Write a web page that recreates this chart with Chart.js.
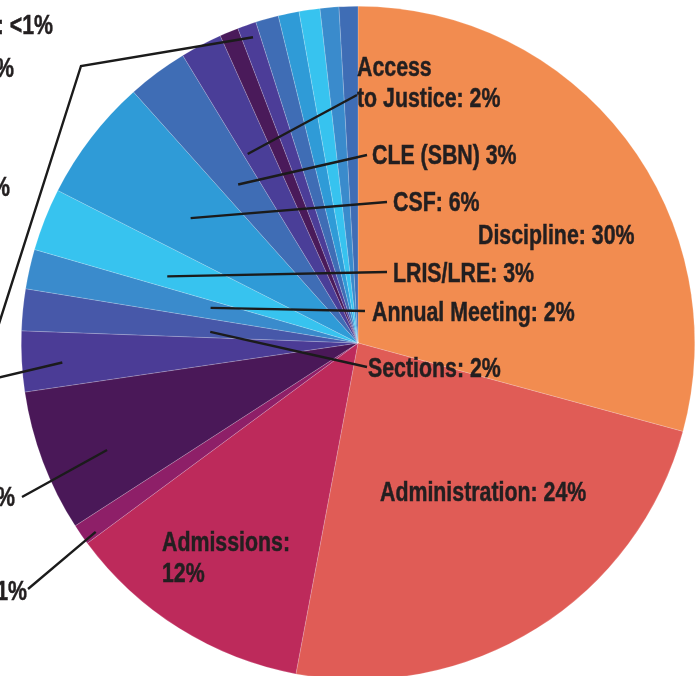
<!DOCTYPE html>
<html>
<head>
<meta charset="utf-8" />
<title>Expenditures by Program</title>
<script src="https://cdn.jsdelivr.net/npm/chart.js"></script>
<style>
	html, body { margin: 0; padding: 0; background: #fff; overflow: hidden; width: 696px; height: 676px; }
	#wrap { position: absolute; left: 0; top: 0; width: 696px; height: 690px; }
</style>
</head>
<body>
<div id="wrap"><canvas id="pie" width="696" height="690"></canvas></div>
<script>
	// slices, clockwise from 12 o'clock
	const categories = [
		'Discipline', 'Administration', 'Admissions', 'Member Services', 'Information Technology',
		'Communications', 'Sections', 'Annual Meeting', 'LRIS/LRE', 'CSF',
		'CLE (SBN)', 'Access to Justice', 'Board of Trustees', 'Other', 'Bar Journal',
		'Diversity', 'Legal Specialization', 'Certification', 'Ethics'
	];
	const shares = [29.2, 23.7, 11.9, 1.0, 6.8, 2.9, 2.0, 1.9, 3.0, 5.9, 2.9, 2.0, 0.9, 0.9, 1.1, 1.0, 1.0, 0.9, 0.9];
	const sliceColors = [
		'#f28c50', '#e05c56', '#bd2a5b', '#8e1f68', '#4a1858',
		'#4b3c96', '#4758a9', '#3a8bcc', '#37c3ef', '#2f9bd7',
		'#3f6db5', '#4a3e98', '#4a1a5a', '#4c3d98', '#3f6db5',
		'#2f9bd7', '#37c3ef', '#3a8bcc', '#3f6db5'
	];

	// no narrow face installed, so squeeze Liberation Sans Bold
	const FONT = "bold 27px 'Liberation Sans', Arial, sans-serif";
	const SQUEEZE = 0.79;
	const INK = '#231f20';

	// leaders: slice index, position inside slice (t along the arc, r of radius), then path and text
	const notes = [
		{ i: 11, t: 0.15, r: 0.65, path: [[357, 95]], text: ['Access', 'to Justice: 2%'], x: 357, y: 67 },
		{ i: 10, t: 0.45, r: 0.59, path: [[367, 155]], text: ['CLE (SBN) 3%'], x: 372, y: 155 },
		{ i: 9, t: 0.46, r: 0.62, path: [[387, 202]], text: ['CSF: 6%'], x: 393, y: 202 },
		{ i: 8, t: 0.29, r: 0.60, path: [[387, 272]], text: ['LRIS/LRE: 3%'], x: 393, y: 273 },
		{ i: 7, t: 0.60, r: 0.45, path: [[365, 311]], text: ['Annual Meeting: 2%'], x: 372, y: 312 },
		{ i: 6, t: 0.31, r: 0.44, path: [[367, 367]], text: ['Sections: 2%'], x: 368, y: 368 },
		{ i: 13, t: 0.60, r: 0.96, path: [[81, 66], [-10, 352]], text: [], x: 0, y: 0 },
		{ i: 5, t: 0.44, r: 0.88, path: [[-20, 382]], text: [], x: 0, y: 0 },
		{ i: 4, t: 0.40, r: 0.81, path: [[22, 497]], text: [], x: 0, y: 0 },
		{ i: 3, t: 0.20, r: 0.96, path: [[28, 589]], text: [], x: 0, y: 0 }
	];
	// labels sitting inside slices, or running off the left edge
	const plainLabels = [
		{ text: ['Discipline: 30%'], x: 478, y: 235, align: 'left' },
		{ text: ['Administration: 24%'], x: 380, y: 492, align: 'left' },
		{ text: ['Admissions:', '12%'], x: 162, y: 542, align: 'left' },
		{ text: ['Other: <1%'], x: 53, y: 25, align: 'right' },
		{ text: ['Bar Journal: 1%'], x: 14, y: 68, align: 'right' },
		{ text: ['Communications: 3%'], x: 10, y: 187, align: 'right' },
		{ text: ['Information Technology: 7%'], x: 15, y: 497, align: 'right' },
		{ text: ['Member Services: 1%'], x: 27, y: 591, align: 'right' }
	];

	function drawLines(ctx, lines, x, y, align) {
		lines.forEach((s, k) => {
			ctx.save();
			ctx.translate(x, y + 1.5 + k * 31);
			ctx.scale(SQUEEZE, 1);
			ctx.textAlign = align;
			ctx.fillText(s, 0, 0);
			ctx.strokeText(s, 0, 0);
			ctx.restore();
		});
	}

	const leaderPlugin = {
		id: 'leaders',
		afterDatasetsDraw(chart) {
			const ctx = chart.ctx;
			const arcs = chart.getDatasetMeta(0).data;
			ctx.save();
			ctx.strokeStyle = '#1b1b1b';
			ctx.lineWidth = 2.4;
			ctx.lineCap = 'butt';
			notes.forEach(n => {
				const a = arcs[n.i];
				const ang = a.startAngle + (a.endAngle - a.startAngle) * n.t;
				const sx = a.x + Math.cos(ang) * a.outerRadius * n.r;
				const sy = a.y + Math.sin(ang) * a.outerRadius * n.r;
				ctx.beginPath();
				ctx.moveTo(sx, sy);
				n.path.forEach(p => ctx.lineTo(p[0], p[1]));
				ctx.stroke();
			});
			ctx.fillStyle = INK;
			ctx.strokeStyle = INK;
			ctx.lineWidth = 0.5;
			ctx.font = FONT;
			ctx.textBaseline = 'middle';
			notes.forEach(n => { if (n.text.length) drawLines(ctx, n.text, n.x, n.y, 'left'); });
			plainLabels.forEach(l => drawLines(ctx, l.text, l.x, l.y, l.align));
			ctx.restore();
		}
	};

	new Chart(document.getElementById('pie').getContext('2d'), {
		type: 'pie',
		data: {
			labels: categories,
			datasets: [{
				data: shares,
				backgroundColor: sliceColors,
				borderColor: 'rgba(255,255,255,0.35)',
				borderWidth: 0.5
			}]
		},
		options: {
			responsive: false,
			animation: false,
			devicePixelRatio: 1,
			layout: { padding: { left: 21, right: 1, top: 6, bottom: 10 } },
			plugins: {
				legend: { display: false },
				tooltip: { enabled: false }
			}
		},
		plugins: [leaderPlugin]
	});
</script>
</body>
</html>
